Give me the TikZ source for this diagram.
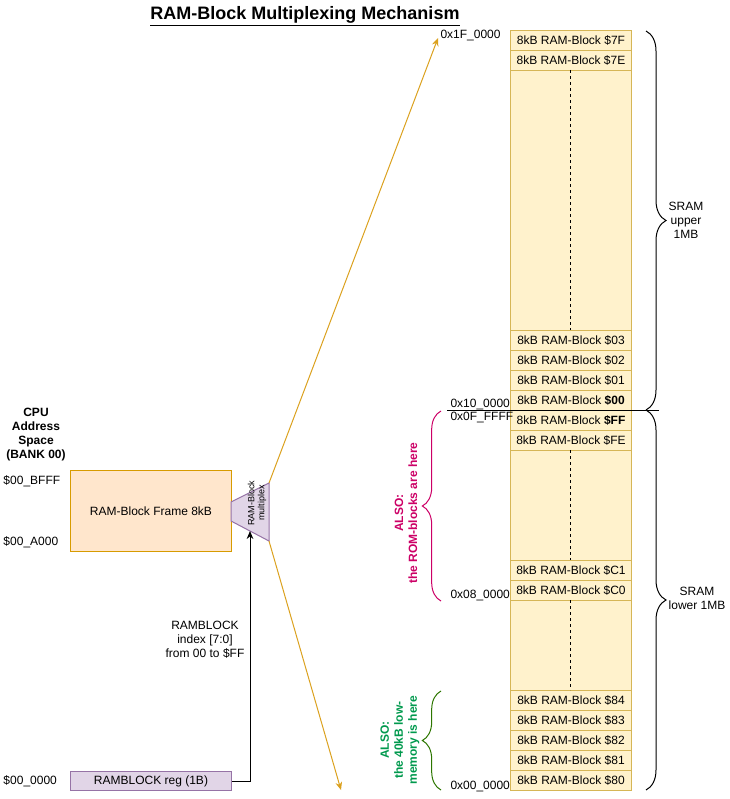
\documentclass[tikz,border=0pt]{standalone}
\usepackage{fontspec}
\setmainfont{Liberation Sans}
\usetikzlibrary{arrows.meta,decorations.pathreplacing}
\definecolor{blkfill}{HTML}{FFF2CC}
\definecolor{blkdraw}{HTML}{D6B656}
\definecolor{frfill}{HTML}{FFE6CC}
\definecolor{frdraw}{HTML}{D79B00}
\definecolor{pufill}{HTML}{E1D5E7}
\definecolor{pudraw}{HTML}{9673A6}
\definecolor{arrorange}{HTML}{DBA11F}
\definecolor{mag}{HTML}{CC0066}
\definecolor{grn}{HTML}{00994D}
\definecolor{grnb}{HTML}{2D7600}
\begin{document}
\begin{tikzpicture}[x=0.75pt,y=-0.75pt,line width=0.75pt,
  font=\fontsize{9}{10.5}\selectfont,
  blk/.style={draw=blkdraw,fill=blkfill,minimum width=90.75pt,minimum height=15pt,inner sep=0pt,anchor=north west},
  lbl/.style={inner sep=0pt,anchor=west},
  brc/.style={decorate,decoration={brace,amplitude=#1}},
  oarrow/.style={draw=arrorange,-{Stealth[length=6pt,width=5pt]}},
  dsh/.style={dash pattern=on 2.25pt off 2.25pt,line width=0.75pt}]
\useasboundingbox (0,0) rectangle (730,799);
% title
\node[font=\fontsize{13.5}{16}\selectfont\bfseries] (title) at (305,16) {\underline{RAM-Block Multiplexing Mechanism}};
% memory column
\node[blk,minimum height=570pt] (col) at (510,30) {};
\node[blk] (b7F) at (510,30) {8kB RAM-Block \$7F};
\node[blk] (b7E) at (510,50) {8kB RAM-Block \$7E};
\node[blk] (b03) at (510,330) {8kB RAM-Block \$03};
\node[blk] (b02) at (510,350) {8kB RAM-Block \$02};
\node[blk] (b01) at (510,370) {8kB RAM-Block \$01};
\node[blk] (b00) at (510,390) {8kB RAM-Block \textbf{\$00}};
\node[blk] (bFF) at (510,410) {8kB RAM-Block \textbf{\$FF}};
\node[blk] (bFE) at (510,430) {8kB RAM-Block \$FE};
\node[blk] (bC1) at (510,560) {8kB RAM-Block \$C1};
\node[blk] (bC0) at (510,580) {8kB RAM-Block \$C0};
\node[blk] (b84) at (510,690) {8kB RAM-Block \$84};
\node[blk] (b83) at (510,710) {8kB RAM-Block \$83};
\node[blk] (b82) at (510,730) {8kB RAM-Block \$82};
\node[blk] (b81) at (510,750) {8kB RAM-Block \$81};
\node[blk] (b80) at (510,770) {8kB RAM-Block \$80};
\draw[dsh] (570,70) -- (570,330);
\draw[dsh] (570,450) -- (570,560);
\draw[dsh] (570,600) -- (570,690);
% address labels
\node[lbl] (a1F) at (440,36) {0x1F\_0000};
\node[lbl] (a10) at (450,404) {0x10\_0000};
\node[lbl] (a0F) at (450,417) {0x0F\_FFFF};
\node[lbl] (a08) at (450,595) {0x08\_0000};
\node[lbl] (a00) at (450,786) {0x00\_0000};
\coordinate (sl) at (447,410);
\coordinate (sr) at (659,410);
\draw (sl) -- (sr);
% right braces
\draw[brc=15pt] (646,31) -- (646,410);
\draw[brc=15pt] (646,410) -- (646,790);
\node[align=center,inner sep=0pt] (up) at (686,220) {SRAM\\upper\\1MB};
\node[align=center,inner sep=0pt] (lo) at (697,598) {SRAM\\lower 1MB};
% left braces
\draw[mag,brc=14pt] (441,601) -- (441,411);
\node[mag,rotate=90,align=center,font=\fontsize{9}{10.5}\selectfont\bfseries,inner sep=0pt] (rom) at (406,513) {ALSO:\\the ROM-blocks are here};
\draw[grnb,brc=14pt] (441,790) -- (441,691);
\node[grn,rotate=90,align=center,font=\fontsize{9}{10.5}\selectfont\bfseries,inner sep=0pt] (low) at (400,740) {ALSO:\\the 40kB low-\\memory is here};
% CPU side
\node[align=center,font=\fontsize{9}{10.5}\selectfont\bfseries,inner sep=0pt] (cpu) at (36,435) {CPU\\Address\\Space\\(BANK 00)};
\node[lbl] (aBFFF) at (3,481) {\$00\_BFFF};
\node[lbl] (aA000) at (3,542) {\$00\_A000};
\node[lbl] (a0000) at (3,781) {\$00\_0000};
\node[draw=frdraw,fill=frfill,minimum width=120.75pt,minimum height=60.75pt,inner sep=0pt,anchor=north west] (frame) at (70,470) {RAM-Block Frame 8kB};
\node[draw=pudraw,fill=pufill,minimum width=120.75pt,minimum height=14.25pt,inner sep=0pt,anchor=north west] (reg) at (70,771) {RAMBLOCK reg (1B)};
% multiplexer
\coordinate (mtl) at (231,502);
\coordinate (mtr) at (269,483);
\coordinate (mbr) at (269,541);
\coordinate (mbl) at (231,521);
\draw[draw=pudraw,fill=pufill] (mtl) -- (mtr) -- (mbr) -- (mbl) -- cycle;
\node[rotate=90,align=center,font=\fontsize{6.75}{7.5}\selectfont,inner sep=0pt] (mux) at (257,503) {RAM-Block\\multiplex};
\coordinate (mbot) at (250,531);
% connectors
\coordinate (t1) at (438,38);
\coordinate (t2) at (341,790);
\draw[oarrow] (mtr) -- (t1);
\draw[oarrow] (mbr) -- (t2);
\draw[-{Stealth[length=6pt,width=5pt]}] (reg.east) -| (mbot);
\node[align=center,inner sep=0pt] (idx) at (205,640) {RAMBLOCK\\index [7:0]\\from 00 to \$FF};
\end{tikzpicture}
\end{document}
